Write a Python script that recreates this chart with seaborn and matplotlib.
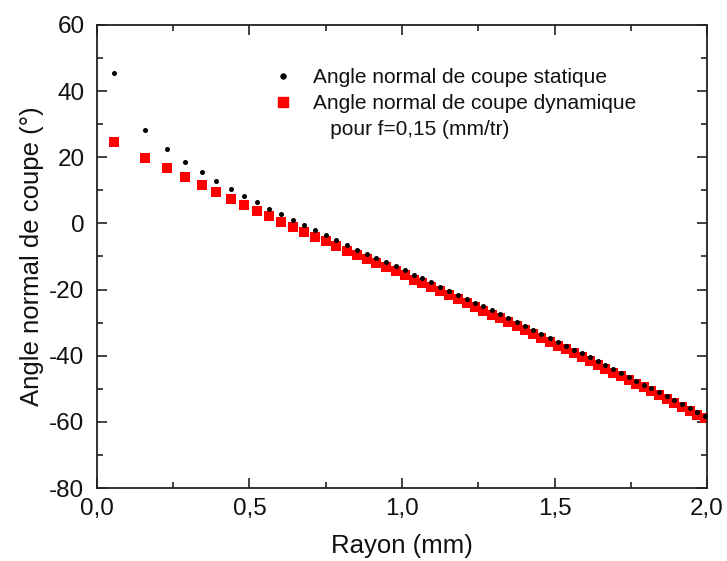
import matplotlib
matplotlib.use("Agg")
import matplotlib.pyplot as plt
from matplotlib.lines import Line2D
from matplotlib.ticker import MultipleLocator, FuncFormatter
import seaborn as sns

# Rayon (mm)
rayon = [0.057, 0.158, 0.230, 0.290, 0.344, 0.391, 0.439, 0.482, 0.526, 0.565,
         0.603, 0.643, 0.680, 0.715, 0.750, 0.784, 0.819, 0.852, 0.884, 0.915,
         0.948, 0.980, 1.010, 1.039, 1.067, 1.096, 1.126, 1.155, 1.185, 1.212,
         1.240, 1.267, 1.294, 1.321, 1.349, 1.376, 1.403, 1.430, 1.457, 1.484,
         1.511, 1.537, 1.563, 1.589, 1.615, 1.641, 1.667, 1.693, 1.718, 1.743,
         1.768, 1.793, 1.818, 1.843, 1.868, 1.893, 1.918, 1.943, 1.968, 1.993]

angle_statique = [45.4, 28.2, 22.4, 18.6, 15.5, 12.8, 10.5, 8.4, 6.5, 4.5,
                  2.8, 1.0, -0.5, -2.0, -3.5, -5.1, -6.5, -7.9, -9.2, -10.4,
                  -11.6, -12.9, -14.1, -15.5, -16.6, -17.8, -19.1, -20.3, -21.6, -22.7,
                  -24.0, -25.1, -26.3, -27.4, -28.6, -29.9, -31.1, -32.2, -33.4, -34.6,
                  -35.9, -37.0, -38.2, -39.3, -40.5, -41.7, -42.9, -44.1, -45.2, -46.4,
                  -47.6, -48.7, -49.9, -51.0, -52.2, -53.4, -54.6, -55.8, -57.0, -58.1]

angle_dynamique = [24.6, 19.9, 16.7, 14.0, 11.5, 9.4, 7.3, 5.7, 3.7, 2.1,
                   0.5, -1.1, -2.7, -4.1, -5.4, -6.8, -8.2, -9.5, -10.8, -12.0,
                   -13.2, -14.4, -15.6, -17.0, -18.1, -19.3, -20.5, -21.7, -23.0, -24.1,
                   -25.3, -26.4, -27.6, -28.7, -29.9, -31.1, -32.3, -33.4, -34.6, -35.8,
                   -37.0, -38.1, -39.3, -40.4, -41.6, -42.7, -43.9, -45.1, -46.2, -47.4,
                   -48.5, -49.6, -50.8, -51.9, -53.1, -54.3, -55.4, -56.6, -57.8, -58.9]

sns.set_style("ticks")
plt.rcParams['font.family'] = ['Liberation Sans', 'DejaVu Sans']

fig = plt.figure(figsize=(7.27, 5.61), dpi=100)
ax = fig.add_axes([0.1334, 0.130, 0.8391, 0.8256])

# red squares first, black dots drawn on top
sns.scatterplot(x=rayon, y=angle_dynamique, marker='s', color='#ff0000', s=58,
                linewidth=0, ax=ax, legend=False, zorder=2)
sns.scatterplot(x=rayon, y=angle_statique, marker='o', color='black', s=13,
                linewidth=0, ax=ax, legend=False, zorder=3)

ax.set_xlim(0, 2.0)
ax.set_ylim(-80, 60)
ax.xaxis.set_major_locator(MultipleLocator(0.5))
ax.xaxis.set_minor_locator(MultipleLocator(0.25))
ax.yaxis.set_major_locator(MultipleLocator(20))
ax.yaxis.set_minor_locator(MultipleLocator(10))
ax.xaxis.set_major_formatter(FuncFormatter(lambda v, p: f"{v:.1f}".replace('.', ',')))
ax.yaxis.set_major_formatter(FuncFormatter(lambda v, p: f"{v:.0f}"))
ax.tick_params(which='both', direction='in', top=True, right=True, labelsize=17.5,
               width=1.2, color='#222222', labelcolor='#111111')
ax.tick_params(which='major', length=7)
ax.tick_params(which='minor', length=4)
ax.tick_params(axis='x', pad=7)
ax.tick_params(axis='y', pad=9)
for sp in ax.spines.values():
    sp.set_linewidth(1.3)
    sp.set_color('#222222')
    sp.set_visible(True)

ax.set_xlabel("Rayon (mm)", fontsize=18.5, labelpad=10, color='#111111')
ax.set_ylabel("Angle normal de coupe (°)", fontsize=18.5, labelpad=4, color='#111111')

handles = [
    Line2D([], [], marker='o', color='black', linestyle='none', markersize=3.6),
    Line2D([], [], marker='s', color='#ff0000', linestyle='none', markersize=7.6),
    Line2D([], [], linestyle='none', marker=None),
]
labels = ["Angle normal de coupe statique",
          "Angle normal de coupe dynamique",
          "   pour f=0,15 (mm/tr)"]
ax.legend(handles, labels, loc='upper left', bbox_to_anchor=(0.271, 0.924),
          frameon=False, fontsize=15, handletextpad=0.85, labelspacing=0.33,
          handlelength=1.2, borderaxespad=0, labelcolor='#111111')

fig.savefig("out.png", dpi=100)
